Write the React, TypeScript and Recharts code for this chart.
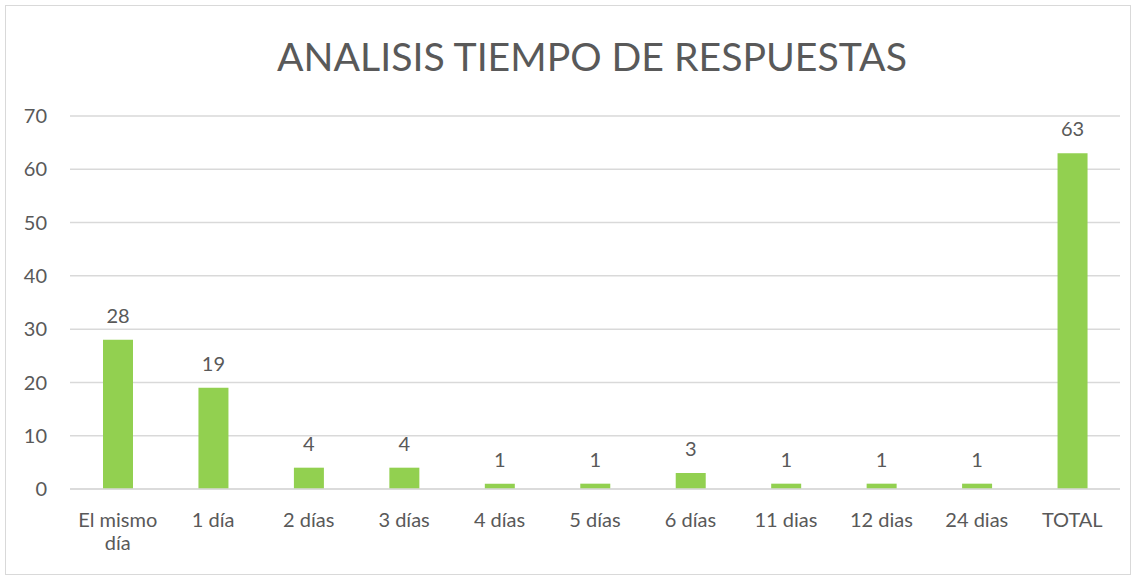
import { BarChart, Bar, XAxis, YAxis, CartesianGrid, LabelList } from "recharts";

const categories = [
  "El mismo día",
  "1 día",
  "2 días",
  "3 días",
  "4 días",
  "5 días",
  "6 días",
  "11 dias",
  "12 dias",
  "24 dias",
  "TOTAL",
];
const respuestas = [28, 19, 4, 4, 1, 1, 3, 1, 1, 1, 63];
const yTicks = [0, 10, 20, 30, 40, 50, 60, 70];

const data = categories.map((name, i) => ({ name, valor: respuestas[i] }));

const FONT = "Lato, 'Open Sans', sans-serif";
const GREY = "#595959";

// Excel wraps long category labels onto two lines
function WrapTick(props: any) {
  const { x, y, payload } = props;
  const label: string = payload.value;
  let lines = [label];
  if (label.length > 10) {
    const cut = label.lastIndexOf(" ");
    lines = [label.slice(0, cut), label.slice(cut + 1)];
  }
  return (
    <text x={x} y={y} textAnchor="middle" fill={GREY} fontSize={20} fontFamily={FONT}>
      {lines.map((l, i) => (
        <tspan key={i} x={x} dy={i === 0 ? 26 : 23}>
          {l}
        </tspan>
      ))}
    </text>
  );
}

export default function App() {
  return (
    <div
      style={{
        position: "absolute",
        left: 0,
        top: 0,
        width: 1137,
        height: 577,
        background: "#fff",
        fontFamily: FONT,
      }}
    >
      <div
        style={{
          position: "absolute",
          left: 5,
          top: 5,
          width: 1126,
          height: 570,
          border: "1px solid #d9d9d9",
          boxSizing: "border-box",
        }}
      />
      <div
        style={{
          position: "absolute",
          top: 36,
          left: 0,
          width: 1184,
          textAlign: "center",
          fontSize: 39.2,
          lineHeight: "40px",
          color: GREY,
        }}
      >
        ANALISIS TIEMPO DE RESPUESTAS
      </div>
      <div style={{ position: "absolute", left: 0, top: 0 }}>
        <BarChart
          width={1137}
          height={577}
          data={data}
          margin={{ top: 116, right: 17, bottom: 0, left: 0 }}
          barSize={30}
        >
          <CartesianGrid vertical={false} stroke="#d9d9d9" strokeWidth={1.5} />
          <XAxis
            dataKey="name"
            height={88}
            tick={<WrapTick />}
            tickLine={false}
            axisLine={{ stroke: "#d9d9d9", strokeWidth: 1.5 }}
            interval={0}
            tickMargin={6}
          />
          <YAxis
            width={70}
            domain={[0, 70]}
            ticks={yTicks}
            tickLine={false}
            axisLine={false}
            tickMargin={17}
            tick={{ fill: GREY, fontSize: 20, fontFamily: FONT }}
          />
          <Bar dataKey="valor" fill="#92d050" isAnimationActive={false}>
            <LabelList
              dataKey="valor"
              position="top"
              offset={17}
              fill={GREY}
              fontSize={20}
              fontFamily={FONT}
            />
          </Bar>
        </BarChart>
      </div>
    </div>
  );
}
